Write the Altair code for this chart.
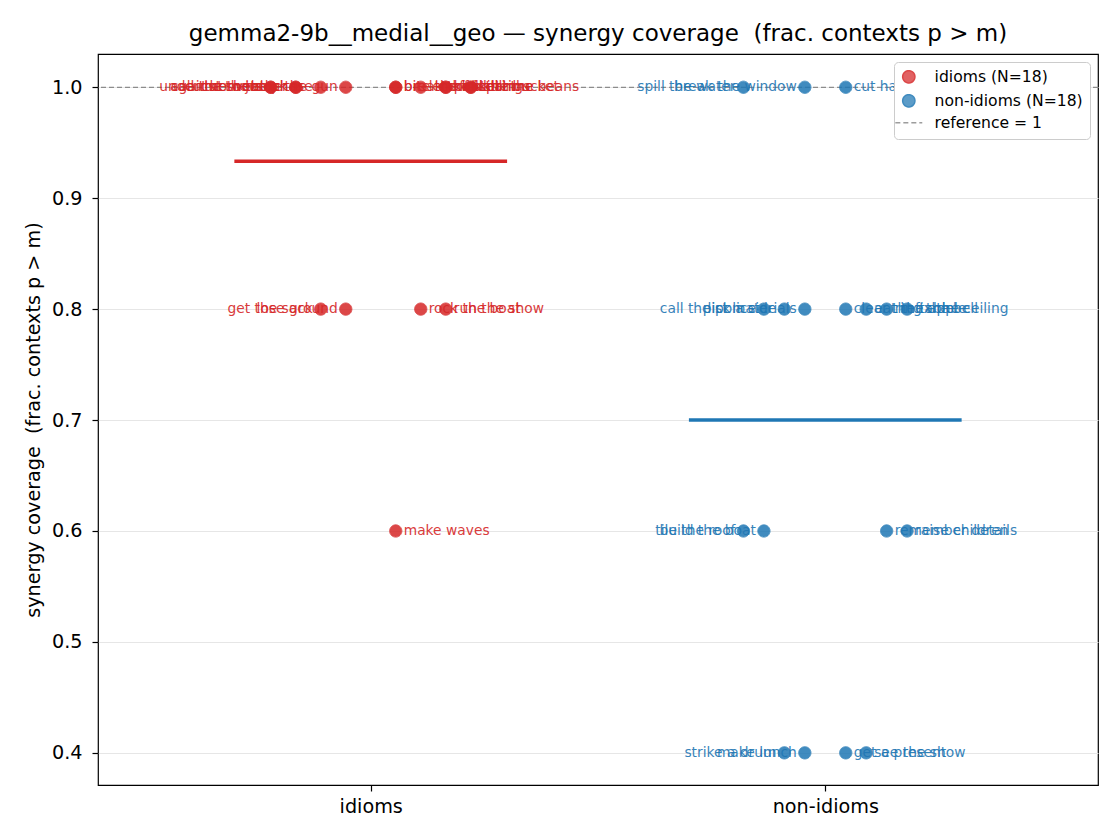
import altair as alt
import pandas as pd

RED = "#d62728"
BLUE = "#1f77b4"
GRAY = "#8c8c8c"

# ---- data ----
idiom_labels = [
    "call the shots", "cut corners", "against the clock", "under the weather",
    "cut to the chase", "jump the gun", "break the ice", "bite the bullet",
    "let off steam", "kick the bucket", "pull strings", "spill the beans", "kill time",
    "get the sack", "lose ground", "rock the boat", "run the show",
    "make waves",
]
idiom_cov = [1.0] * 13 + [0.8] * 4 + [0.6]
idiom_jit = [-0.22, -0.22, -0.165, -0.165, -0.11, -0.055, 0.055, 0.055,
             0.11, 0.165, 0.165, 0.22, 0.22,
             -0.11, -0.055, 0.11, 0.165,
             0.055]

non_labels = [
    "spill the water", "break the window", "cut hair",
    "call the police", "pick a side", "list materials", "clear the table",
    "eat the apple", "ring the bell", "fix the ceiling",
    "tile the roof", "build the boat", "remember details", "raise children",
    "strike a drum", "make lunch", "get a present", "see the show",
]
non_cov = [1.0] * 3 + [0.8] * 7 + [0.6] * 4 + [0.4] * 4
non_jit = [-0.18, -0.045, 0.045,
           -0.135, -0.09, -0.045, 0.045, 0.09, 0.135, 0.18,
           -0.18, -0.135, 0.135, 0.18,
           -0.09, -0.045, 0.045, 0.09]

groups = ["idioms", "non-idioms"]
legend_names = ["idioms (N=18)", "non-idioms (N=18)", "reference = 1"]
y_ticks = [0.4, 0.5, 0.6, 0.7, 0.8, 0.9, 1.0]
reference_value = [1.0]

rows = []
for cat, (g, labs, covs, jits) in enumerate([
        (groups[0], idiom_labels, idiom_cov, idiom_jit),
        (groups[1], non_labels, non_cov, non_jit)]):
    for lab, c, j in zip(labs, covs, jits):
        rows.append({"group": g, "series": legend_names[cat], "cat": cat,
                     "label": lab, "coverage": c, "jit": j})
df = pd.DataFrame(rows)
ref_df = pd.DataFrame({"ref": reference_value})

x_scale = alt.Scale(domain=[-0.6, 1.6], nice=False, zero=False)
y_scale = alt.Scale(domain=[0.371, 1.03], nice=False, zero=False)
x_axis = alt.Axis(values=[0, 1], labelExpr="datum.value == 0 ? 'idioms' : 'non-idioms'",
                  title=None, grid=False, labelPadding=6)
y_title = "synergy coverage \u00a0(frac. contexts p > m)"
y_axis = alt.Axis(values=y_ticks, format=".1f", title=y_title, grid=True,
                  gridColor="#e6e6e6", gridWidth=1.2, labelPadding=10, titlePadding=8)

color_cond = alt.condition(alt.datum.group == "idioms", alt.value(RED), alt.value(BLUE))

base = alt.Chart(df).transform_calculate(xpos="datum.cat + datum.jit")

ref_rule = alt.Chart(ref_df).mark_rule(strokeDash=[5, 3], color=GRAY, strokeWidth=1.3).encode(
    y=alt.Y("ref:Q", scale=y_scale, axis=y_axis)
)

leg = alt.Legend(title=None)
points = base.mark_point(filled=True, size=150, opacity=0.85, strokeWidth=1).encode(
    x=alt.X("xpos:Q", scale=x_scale, axis=x_axis),
    y=alt.Y("coverage:Q", scale=y_scale, axis=y_axis),
    fill=alt.Fill("series:N", scale=alt.Scale(domain=legend_names, range=[RED, BLUE, GRAY]), legend=leg),
    stroke=alt.Stroke("series:N", scale=alt.Scale(domain=legend_names, range=[RED, BLUE, GRAY]), legend=leg),
    shape=alt.Shape("series:N", scale=alt.Scale(domain=legend_names,
                                                range=["circle", "circle", "M-2.2,0L2.2,0"]), legend=leg),
    strokeDash=alt.StrokeDash("series:N", scale=alt.Scale(domain=legend_names,
                                                          range=[[1, 0], [1, 0], [5, 3]]), legend=leg),
)

text_left = base.transform_filter("datum.jit < 0").mark_text(
    align="right", baseline="middle", dx=-8, fontSize=13.8, font="DejaVu Sans", opacity=0.9
).encode(
    x=alt.X("xpos:Q", scale=x_scale, axis=x_axis),
    y=alt.Y("coverage:Q", scale=y_scale, axis=y_axis),
    text="label:N",
    color=color_cond,
)
text_right = base.transform_filter("datum.jit > 0").mark_text(
    align="left", baseline="middle", dx=8, fontSize=13.8, font="DejaVu Sans", opacity=0.9
).encode(
    x=alt.X("xpos:Q", scale=x_scale, axis=x_axis),
    y=alt.Y("coverage:Q", scale=y_scale, axis=y_axis),
    text="label:N",
    color=color_cond,
)

means = alt.Chart(df).transform_aggregate(
    mean="mean(coverage)", groupby=["group", "cat"]
).transform_calculate(
    x0="datum.cat - 0.3", x1="datum.cat + 0.3"
).mark_rule(strokeWidth=3.5).encode(
    x=alt.X("x0:Q", scale=x_scale, axis=x_axis),
    x2="x1:Q",
    y=alt.Y("mean:Q", scale=y_scale, axis=y_axis),
    color=color_cond,
)

chart = alt.layer(ref_rule, means, text_left, text_right, points).properties(
    width=1000, height=731,
    title=alt.TitleParams(text="gemma2-9b__medial__geo \u2014 synergy coverage \u00a0(frac. contexts p > m)",
                          anchor="middle"),
    padding={"left": 90, "top": 46, "right": 14, "bottom": 47},
    autosize=alt.AutoSizeParams(type="none"),
).configure_view(
    stroke="black", strokeWidth=1.2
).configure_axis(
    labelFont="DejaVu Sans", labelFontSize=19.2, labelColor="black",
    titleFont="DejaVu Sans", titleFontSize=19.2, titleFontWeight="normal", titleColor="black",
    tickColor="black", tickSize=6, tickWidth=1.2, domain=False,
).configure_title(
    font="DejaVu Sans", fontSize=23, fontWeight="normal", color="black", offset=8,
).configure_legend(
    orient="top-right", offset=8, fillColor="white", strokeColor="#cccccc", cornerRadius=4,
    padding=7, labelFont="DejaVu Sans", labelFontSize=15.6, labelColor="black",
    symbolSize=150, symbolStrokeWidth=1.5, rowPadding=5, labelOffset=18,
)

chart.save("out.html", embed_options={"renderer": "svg", "actions": False})
